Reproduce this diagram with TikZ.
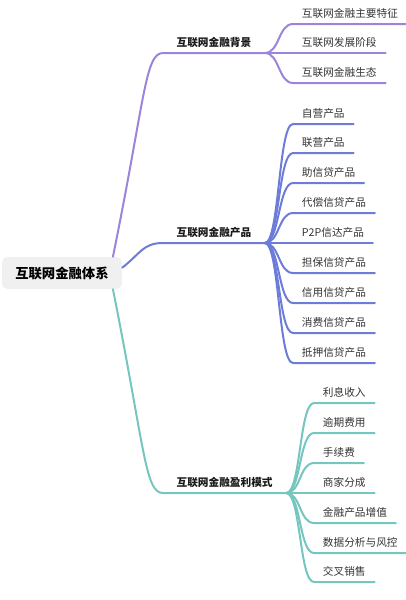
\documentclass[tikz,border=0pt]{standalone}
\usepackage{fontspec}
\setmainfont{Noto Sans CJK SC}
\definecolor{bgc}{HTML}{9B84D9}
\definecolor{cpc}{HTML}{6C7CD8}
\definecolor{ylc}{HTML}{74C6BF}
\begin{document}
\begin{tikzpicture}[x=0.75pt,y=-0.75pt,
        txt/.style={anchor=south west,inner xsep=6.5pt,inner ysep=3.5pt,text height=6pt,text depth=1.5pt,
            font=\fontsize{8}{9}\selectfont,text=black!80},
        mid/.style={txt,inner xsep=10pt,font=\fontsize{8}{9}\selectfont\bfseries,text=black!90},
        kid/.style={out=0,in=180,distance=11pt},
        bgline/.style={draw=bgc,line width=1.5pt,line cap=round},
        cpline/.style={draw=cpc,line width=1.5pt,line cap=round},
        ylline/.style={draw=ylc,line width=1.5pt,line cap=round}]
        \useasboundingbox (0,0) rectangle (406,600);
        % Root
        \node[fill=gray!12,rounded corners=4pt,minimum width=90pt,minimum height=24pt,
            font=\fontsize{10}{12}\selectfont\bfseries] (root) at (62,273) {互联网金融体系};
        % Middle level
        \node[mid] (bg) at (163,53) {互联网金融背景};
        \node[mid] (cp) at (163,243) {互联网金融产品};
        \node[mid] (yl) at (163,493) {互联网金融盈利模式};
        % Background leaves
        \node[txt] (bg1) at (293,24) {互联网金融主要特征};
        \node[txt] (bg2) at (293,53) {互联网发展阶段};
        \node[txt] (bg3) at (293,83) {互联网金融生态};
        % Product leaves
        \node[txt] (cp1) at (293,124) {自营产品};
        \node[txt] (cp2) at (293,153) {联营产品};
        \node[txt] (cp3) at (293,183) {助信贷产品};
        \node[txt] (cp4) at (293,213) {代偿信贷产品};
        \node[txt] (cp5) at (293,243) {P2P信达产品};
        \node[txt] (cp6) at (293,273) {担保信贷产品};
        \node[txt] (cp7) at (293,303) {信用信贷产品};
        \node[txt] (cp8) at (293,333) {消费信贷产品};
        \node[txt] (cp9) at (293,363) {抵押信贷产品};
        % Profit leaves
        \node[txt] (yl1) at (314,403) {利息收入};
        \node[txt] (yl2) at (314,433) {逾期费用};
        \node[txt] (yl3) at (314,463) {手续费};
        \node[txt] (yl4) at (314,493) {商家分成};
        \node[txt] (yl5) at (314,523) {金融产品增值};
        \node[txt] (yl6) at (314,553) {数据分析与风控};
        \node[txt] (yl7) at (314,582) {交叉销售};
        % Main branches
        \draw[bgline] ([xshift=-7pt]root.north east) .. controls +(32,-157) and +(-18,0) .. (bg.south west) -- (bg.south east);
        \draw[cpline] ([yshift=4pt]root.east) .. controls +(18,-14) and +(-20,0) .. (cp.south west) -- (cp.south east);
        \draw[ylline] ([xshift=-7pt]root.south east) .. controls +(32,160) and +(-18,0) .. (yl.south west) -- (yl.south east);
        % Background children
        \draw[bgline] (bg.south east) to[kid] (bg1.south west) -- (bg1.south east);
        \draw[bgline] (bg.south east) to[kid] (bg2.south west) -- (bg2.south east);
        \draw[bgline] (bg.south east) to[kid] (bg3.south west) -- (bg3.south east);
        % Product children
        \draw[cpline] (cp.south east) to[kid] (cp1.south west) -- (cp1.south east);
        \draw[cpline] (cp.south east) to[kid] (cp2.south west) -- (cp2.south east);
        \draw[cpline] (cp.south east) to[kid] (cp3.south west) -- (cp3.south east);
        \draw[cpline] (cp.south east) to[kid] (cp4.south west) -- (cp4.south east);
        \draw[cpline] (cp.south east) to[kid] (cp5.south west) -- (cp5.south east);
        \draw[cpline] (cp.south east) to[kid] (cp6.south west) -- (cp6.south east);
        \draw[cpline] (cp.south east) to[kid] (cp7.south west) -- (cp7.south east);
        \draw[cpline] (cp.south east) to[kid] (cp8.south west) -- (cp8.south east);
        \draw[cpline] (cp.south east) to[kid] (cp9.south west) -- (cp9.south east);
        % Profit children
        \draw[ylline] (yl.south east) to[kid] (yl1.south west) -- (yl1.south east);
        \draw[ylline] (yl.south east) to[kid] (yl2.south west) -- (yl2.south east);
        \draw[ylline] (yl.south east) to[kid] (yl3.south west) -- (yl3.south east);
        \draw[ylline] (yl.south east) to[kid] (yl4.south west) -- (yl4.south east);
        \draw[ylline] (yl.south east) to[kid] (yl5.south west) -- (yl5.south east);
        \draw[ylline] (yl.south east) to[kid] (yl6.south west) -- (yl6.south east);
        \draw[ylline] (yl.south east) to[kid] (yl7.south west) -- (yl7.south east);
\end{tikzpicture}
\end{document}
